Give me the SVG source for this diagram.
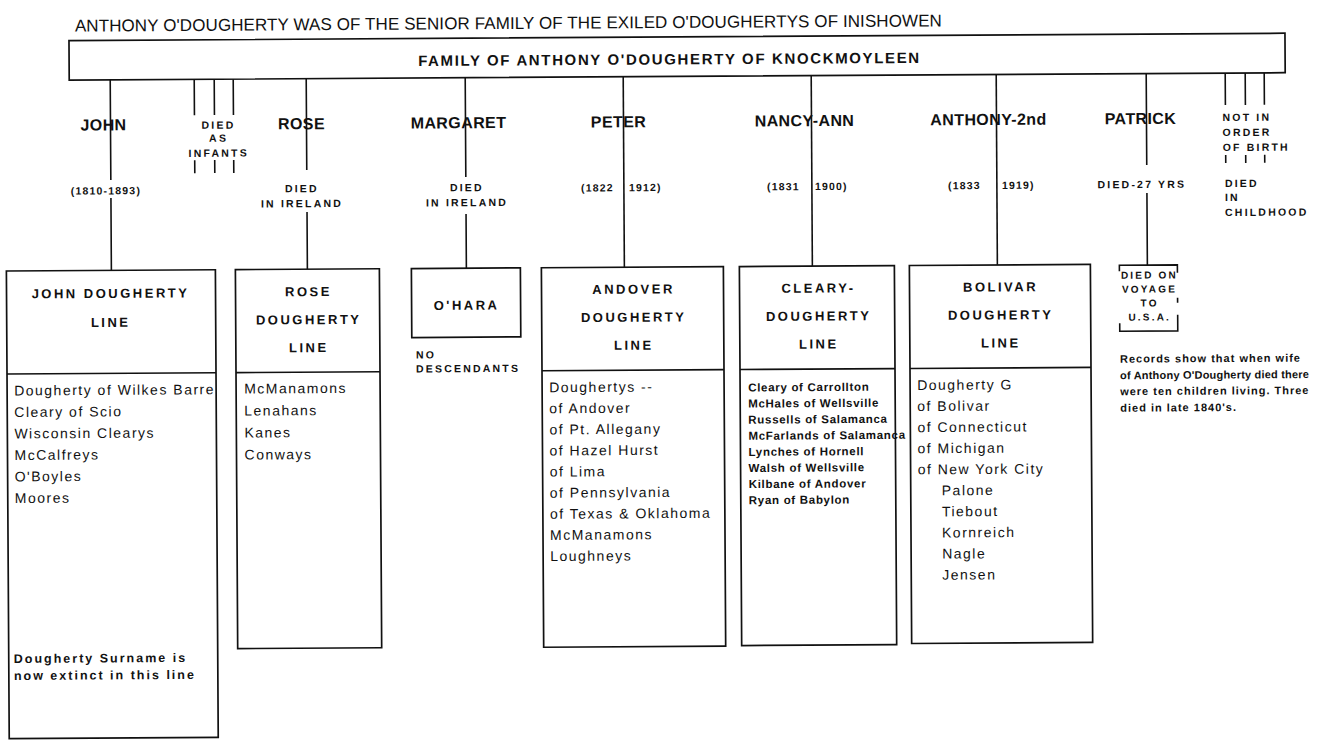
<svg xmlns="http://www.w3.org/2000/svg" width="1329" height="740" viewBox="0 0 1329 740">
<style>
text{font-family:"Liberation Sans",Arial,sans-serif;fill:#111}
.ttl{font-size:17px}
.bar{font-size:15px;font-weight:bold}
.lbl{font-size:16px;font-weight:bold;letter-spacing:0.4px;text-anchor:middle}
.sm{font-size:10.5px;font-weight:bold;letter-spacing:2.2px}
.smc{font-size:10.5px;font-weight:bold;letter-spacing:2.2px;text-anchor:middle}
.dt{font-size:10.5px;font-weight:bold;letter-spacing:1.2px}
.bt{font-size:13px;font-weight:bold;letter-spacing:2.5px;text-anchor:middle}
.bd{font-size:14px;letter-spacing:1.5px}
.bs{font-size:11.5px;font-weight:bold;letter-spacing:0.7px}
.nt{font-size:11px;font-weight:bold;letter-spacing:1px}
.ex{font-size:12.5px;font-weight:bold;letter-spacing:2px}
.pb{font-size:10px;font-weight:bold;letter-spacing:2.2px;text-anchor:middle}
.ln{stroke:#111;stroke-width:1.6;fill:none}
.box{fill:#fff;stroke:#111;stroke-width:1.7}
</style>
<rect width="1329" height="740" fill="#fff"/>
<g transform="rotate(-0.35 665 370)">
<text class="ttl" x="77" y="28" textLength="867" lengthAdjust="spacing">ANTHONY O'DOUGHERTY WAS OF THE SENIOR FAMILY OF THE EXILED O'DOUGHERTYS OF INISHOWEN</text>

<g id="connectors">
<path class="ln" d="M112,76.5V176.6M112,194.6V267"/>
<path class="ln" d="M196,76.5V112.3M216,76.5V112.3M235,76.5V112.3M196,157.3V170.3M216,157.3V170.3M235,157.3V170.3"/>
<path class="ln" d="M308,76.5V167.8M308,209.8V267"/>
<path class="ln" d="M467,76.5V175.8M467,212.8V267"/>
<path class="ln" d="M625,76.5V267"/>
<path class="ln" d="M813,76.5V267"/>
<path class="ln" d="M998,76.5V267"/>
<path class="ln" d="M1148,76.5V167.9M1148,195.9V268"/>
<path class="ln" d="M1227,76.5V108.5M1247,76.5V108.5M1266,76.5V108.5M1227,158.5V166.5M1247,158.5V166.5M1266,158.5V166.5"/>
</g>

<g id="family-bar">
<rect class="box" x="71" y="37" width="1216" height="39.5"/>
<text class="bar" x="420" y="64.5" textLength="501" lengthAdjust="spacing">FAMILY OF ANTHONY O'DOUGHERTY OF KNOCKMOYLEEN</text>
</g>

<g id="john">
<text class="lbl" x="105" y="127">JOHN</text>
<text class="dt" x="107" y="191" text-anchor="middle">(1810-1893)</text>
</g>
<g id="infants">
<text class="smc" x="220" y="126">DIED</text>
<text class="smc" x="220" y="139">AS</text>
<text class="smc" x="220" y="154">INFANTS</text>
</g>
<g id="rose">
<text class="lbl" x="303" y="127">ROSE</text>
<text class="smc" x="303" y="190">DIED</text>
<text class="smc" x="303" y="205">IN IRELAND</text>
</g>
<g id="margaret">
<text class="lbl" x="460" y="127">MARGARET</text>
<text class="smc" x="468" y="190">DIED</text>
<text class="smc" x="468" y="205">IN IRELAND</text>
</g>
<g id="peter">
<text class="lbl" x="620" y="127">PETER</text>
<text class="dt" x="615" y="191" text-anchor="end">(1822</text>
<text class="dt" x="630" y="191">1912)</text>
</g>
<g id="nancy-ann">
<text class="lbl" x="806" y="127">NANCY-ANN</text>
<text class="dt" x="801" y="191" text-anchor="end">(1831</text>
<text class="dt" x="816" y="191">1900)</text>
</g>
<g id="anthony-2nd">
<text class="lbl" x="990" y="127">ANTHONY-2nd</text>
<text class="dt" x="982" y="191" text-anchor="end">(1833</text>
<text class="dt" x="1003" y="191">1919)</text>
</g>
<g id="patrick">
<text class="lbl" x="1142" y="127">PATRICK</text>
<text class="smc" x="1143" y="191">DIED-27 YRS</text>
</g>
<g id="not-in-order">
<text class="sm" x="1224" y="124.5">NOT IN</text>
<text class="sm" x="1224" y="139.5">ORDER</text>
<text class="sm" x="1224" y="154.5">OF BIRTH</text>
<text class="sm" x="1226" y="190.5">DIED</text>
<text class="sm" x="1226" y="204.5">IN</text>
<text class="sm" x="1226" y="219.5">CHILDHOOD</text>
</g>

<g id="john-line">
<rect class="box" x="7" y="267" width="209" height="467.6"/>
<line class="ln" x1="7" y1="370" x2="216" y2="370"/>
<text class="bt" x="111" y="294.5">JOHN DOUGHERTY</text>
<text class="bt" x="111" y="323.5">LINE</text>
<text class="bd" x="14" y="391.5">Dougherty of Wilkes Barre</text>
<text class="bd" x="14" y="413">Cleary of Scio</text>
<text class="bd" x="14" y="434.5">Wisconsin Clearys</text>
<text class="bd" x="14" y="456">McCalfreys</text>
<text class="bd" x="14" y="477.5">O'Boyles</text>
<text class="bd" x="14" y="499">Moores</text>
<text class="ex" x="12" y="659">Dougherty Surname is</text>
<text class="ex" x="12" y="676">now extinct in this line</text>
</g>

<g id="rose-line">
<rect class="box" x="236" y="267" width="144" height="379"/>
<line class="ln" x1="236" y1="370" x2="380" y2="370"/>
<text class="bt" x="309" y="294">ROSE</text>
<text class="bt" x="309" y="322">DOUGHERTY</text>
<text class="bt" x="309" y="350">LINE</text>
<text class="bd" x="244" y="391">McManamons</text>
<text class="bd" x="244" y="413">Lenahans</text>
<text class="bd" x="244" y="435">Kanes</text>
<text class="bd" x="244" y="457">Conways</text>
</g>

<g id="ohara">
<rect class="box" x="412" y="267" width="109" height="69"/>
<text class="bt" x="467" y="308.5">O'HARA</text>
<text class="sm" x="416" y="357">NO</text>
<text class="sm" x="416" y="371">DESCENDANTS</text>
</g>

<g id="andover-line">
<rect class="box" x="542" y="267" width="182" height="379.5"/>
<line class="ln" x1="542" y1="370" x2="724" y2="370"/>
<text class="bt" x="634" y="293.5">ANDOVER</text>
<text class="bt" x="634" y="321.5">DOUGHERTY</text>
<text class="bt" x="634" y="349.5">LINE</text>
<text class="bd" x="549" y="391.5">Doughertys --</text>
<text class="bd" x="549" y="412.6">of Andover</text>
<text class="bd" x="549" y="433.7">of Pt. Allegany</text>
<text class="bd" x="549" y="454.8">of Hazel Hurst</text>
<text class="bd" x="549" y="475.9">of Lima</text>
<text class="bd" x="549" y="497">of Pennsylvania</text>
<text class="bd" x="549" y="518.1">of Texas &amp; Oklahoma</text>
<text class="bd" x="549" y="539.2">McManamons</text>
<text class="bd" x="549" y="560.3">Loughneys</text>
</g>

<g id="cleary-line">
<rect class="box" x="740" y="267" width="155" height="379"/>
<line class="ln" x1="740" y1="370" x2="895" y2="370"/>
<text class="bt" x="819" y="293.5">CLEARY-</text>
<text class="bt" x="819" y="321.5">DOUGHERTY</text>
<text class="bt" x="819" y="349.5">LINE</text>
<text class="bs" x="748" y="392">Cleary of Carrollton</text>
<text class="bs" x="748" y="408.1">McHales of Wellsville</text>
<text class="bs" x="748" y="424.2">Russells of Salamanca</text>
<text class="bs" x="748" y="440.3">McFarlands of Salamanca</text>
<text class="bs" x="748" y="456.4">Lynches of Hornell</text>
<text class="bs" x="748" y="472.5">Walsh of Wellsville</text>
<text class="bs" x="748" y="488.6">Kilbane of Andover</text>
<text class="bs" x="748" y="504.7">Ryan of Babylon</text>
</g>

<g id="bolivar-line">
<rect class="box" x="910" y="267" width="181" height="378"/>
<line class="ln" x1="910" y1="370" x2="1091" y2="370"/>
<text class="bt" x="1001" y="293.5">BOLIVAR</text>
<text class="bt" x="1001" y="321.5">DOUGHERTY</text>
<text class="bt" x="1001" y="349.5">LINE</text>
<text class="bd" x="917" y="391.5">Dougherty G</text>
<text class="bd" x="917" y="412.6">of Bolivar</text>
<text class="bd" x="917" y="433.7">of Connecticut</text>
<text class="bd" x="917" y="454.8">of Michigan</text>
<text class="bd" x="917" y="475.9">of New York City</text>
<text class="bd" x="941" y="497">Palone</text>
<text class="bd" x="941" y="518.1">Tiebout</text>
<text class="bd" x="941" y="539.2">Kornreich</text>
<text class="bd" x="941" y="560.3">Nagle</text>
<text class="bd" x="941" y="581.4">Jensen</text>
</g>

<g id="patrick-voyage">
<path class="ln" d="M1120,274V268H1178V276M1178,301V306M1178,318V334H1120V326"/>
<text class="pb" x="1150" y="281.5">DIED ON</text>
<text class="pb" x="1150" y="295.5">VOYAGE</text>
<text class="pb" x="1150" y="309.5">TO</text>
<text class="pb" x="1150" y="323.5">U.S.A.</text>
</g>

<g id="records-note">
<text class="nt" x="1120" y="365.5">Records show that when wife</text>
<text class="nt" x="1120" y="382" style="letter-spacing:0.2px">of Anthony O'Dougherty died there</text>
<text class="nt" x="1120" y="398">were ten children living. Three</text>
<text class="nt" x="1120" y="414.5">died in late 1840's.</text>
</g>
</g>
</svg>
